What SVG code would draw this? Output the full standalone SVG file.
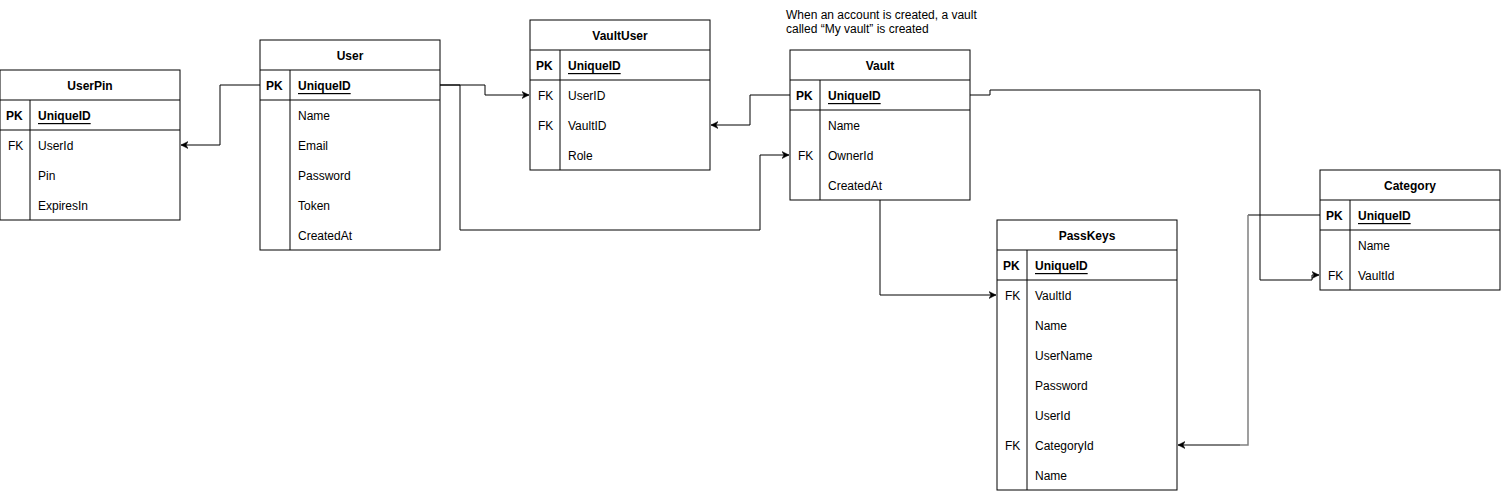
<svg xmlns="http://www.w3.org/2000/svg" width="1501" height="491" viewBox="0 0 1501 491">
<style>
.box{fill:#fff;stroke:#000;stroke-width:1}
.ln{fill:none;stroke:#000;stroke-width:1}
text{font-family:"Liberation Sans",Arial,sans-serif;font-size:12px;fill:#000;dominant-baseline:central;transform:translateY(1px)}
.t{font-weight:bold;text-anchor:middle}
.k{font-weight:bold}
.u{font-weight:bold;text-decoration:underline}
.c{fill:none;stroke:#000;stroke-width:1}
</style>
<defs>
<marker id="ar" markerWidth="8" markerHeight="8" refX="7" refY="4" orient="auto" markerUnits="userSpaceOnUse">
<path d="M0,0.5 L7,4 L0,7.5 L2,4 Z" fill="#000" stroke="#000" stroke-width="0.5"/>
</marker>
</defs>
<rect width="1501" height="491" fill="#fff"/>

<g id="connectors">
<path class="c" d="M260,85 H220 V145 H181" marker-end="url(#ar)"/>
<path class="c" d="M440,85 H485 V95 H529" marker-end="url(#ar)"/>
<path class="c" d="M440,85 H460 V230 H760 V155 H789" marker-end="url(#ar)"/>
<path class="c" d="M790,95 H750 V125 H711" marker-end="url(#ar)"/>
<path class="c" d="M970,95 H990 V90 H1260 V280 H1312 V275 H1319" marker-end="url(#ar)"/>
<path class="c" d="M880,200 V295 H996" marker-end="url(#ar)"/>
<path class="c" d="M1320,215 H1248"/>
<path fill="none" stroke="#808080" stroke-width="1.5" d="M1248,215 V445 H1240"/>
<path class="c" d="M1240,445 H1178" marker-end="url(#ar)"/>
</g>

<g id="UserPin">
<rect class="box" x="0" y="70" width="180" height="150"/>
<path class="ln" d="M0,100 H180 M0,130 H180 M30,100 V220"/>
<text class="t" x="90" y="85">UserPin</text>
<text class="k" x="6" y="115">PK</text><text class="u" x="38" y="115">UniqueID</text>
<text x="8" y="145">FK</text><text x="38" y="145">UserId</text>
<text x="38" y="175">Pin</text>
<text x="38" y="205">ExpiresIn</text>
</g>

<g id="User">
<rect class="box" x="260" y="40" width="180" height="210"/>
<path class="ln" d="M260,70 H440 M260,100 H440 M290,70 V250"/>
<text class="t" x="350" y="55">User</text>
<text class="k" x="266" y="85">PK</text><text class="u" x="298" y="85">UniqueID</text>
<text x="298" y="115">Name</text>
<text x="298" y="145">Email</text>
<text x="298" y="175">Password</text>
<text x="298" y="205">Token</text>
<text x="298" y="235">CreatedAt</text>
</g>

<g id="VaultUser">
<rect class="box" x="530" y="20" width="180" height="150"/>
<path class="ln" d="M530,50 H710 M530,80 H710 M560,50 V170"/>
<text class="t" x="620" y="35">VaultUser</text>
<text class="k" x="536" y="65">PK</text><text class="u" x="568" y="65">UniqueID</text>
<text x="538" y="95">FK</text><text x="568" y="95">UserID</text>
<text x="538" y="125">FK</text><text x="568" y="125">VaultID</text>
<text x="568" y="155">Role</text>
</g>

<g id="Note">
<text x="786" y="14">When an account is created, a vault</text>
<text x="786" y="28">called “My vault” is created</text>
</g>

<g id="Vault">
<rect class="box" x="790" y="50" width="180" height="150"/>
<path class="ln" d="M790,80 H970 M790,110 H970 M820,80 V200"/>
<text class="t" x="880" y="65">Vault</text>
<text class="k" x="796" y="95">PK</text><text class="u" x="828" y="95">UniqueID</text>
<text x="828" y="125">Name</text>
<text x="798" y="155">FK</text><text x="828" y="155">OwnerId</text>
<text x="828" y="185">CreatedAt</text>
</g>

<g id="PassKeys">
<rect class="box" x="997" y="220" width="180" height="270"/>
<path class="ln" d="M997,250 H1177 M997,280 H1177 M1027,250 V490"/>
<text class="t" x="1087" y="235">PassKeys</text>
<text class="k" x="1003" y="265">PK</text><text class="u" x="1035" y="265">UniqueID</text>
<text x="1005" y="295">FK</text><text x="1035" y="295">VaultId</text>
<text x="1035" y="325">Name</text>
<text x="1035" y="355">UserName</text>
<text x="1035" y="385">Password</text>
<text x="1035" y="415">UserId</text>
<text x="1005" y="445">FK</text><text x="1035" y="445">CategoryId</text>
<text x="1035" y="475">Name</text>
</g>

<g id="Category">
<rect class="box" x="1320" y="170" width="180" height="120"/>
<path class="ln" d="M1320,200 H1500 M1320,230 H1500 M1350,200 V290"/>
<text class="t" x="1410" y="185">Category</text>
<text class="k" x="1326" y="215">PK</text><text class="u" x="1358" y="215">UniqueID</text>
<text x="1358" y="245">Name</text>
<text x="1328" y="275">FK</text><text x="1358" y="275">VaultId</text>
</g>
</svg>
